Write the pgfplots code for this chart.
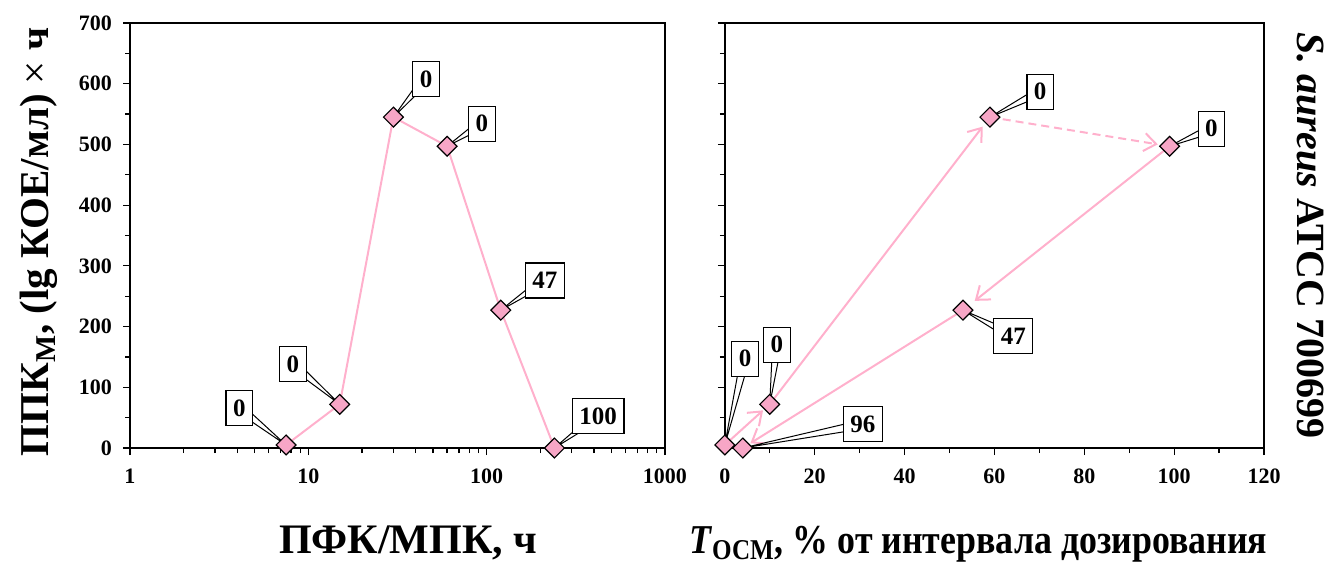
\documentclass[border=0pt]{standalone}
\usepackage{fontspec}
\setmainfont{Liberation Serif}
\usepackage{pgfplots}
\pgfplotsset{compat=1.18}
\usetikzlibrary{arrows.meta,calc}
\definecolor{pline}{RGB}{255,176,204}
\definecolor{pfill}{RGB}{247,166,198}

\tikzset{cbox/.style={draw=black, fill=white, line width=0.6pt, font=\fontsize{12.5}{14}\selectfont\bfseries, inner xsep=3.5pt, inner ysep=0pt, minimum height=17.5pt},
  pink arrow/.style={pline, line width=1pt, -{Straight Barb[length=6pt,width=9pt,line width=1pt]}}}

\newcommand{\callout}[3]{%
  \draw[black, line width=0.5pt, fill=white] (#1) -- ($(#2)!2.2pt!90:(#1)$) -- ($(#2)!2.2pt!-90:(#1)$) -- cycle;
  \node[cbox] at (#2) {#3};
}

\pgfplotsset{mystyle/.style={
  scale only axis, width=267.5pt, height=212.5pt, anchor=south west,
  clip=false, ymin=0, ymax=700,
  axis line style={line width=0.75pt}, tick style={black, line width=0.6pt},
  major tick length=3.5pt, minor tick length=2.5pt, tick align=outside, tick pos=left,
  ticklabel style={font=\fontsize{11}{13}\selectfont\bfseries},
  /pgf/number format/assume math mode=true,
  ytick={0,100,...,700}, minor ytick={50,150,...,650},
  yticklabel style={xshift=-2pt}, xticklabel style={yshift=-3.5pt},
}}

\begin{document}
\begin{tikzpicture}
\useasboundingbox (0pt,0pt) rectangle (665pt,282pt);
% left panel
\begin{axis}[mystyle, at={(65pt,58pt)},
  xmode=log, xmin=1, xmax=1000,
  xtick={1,10,100,1000}, xticklabels={1,10,100,1000},
  minor xtick={2,3,4,5,6,7,8,9,20,30,40,50,60,70,80,90,200,300,400,500,600,700,800,900}]
\addplot[pline, line width=1pt, mark=square*, mark size=3.5pt,
  mark options={rotate=45, fill=pfill, draw=black, line width=0.6pt, solid}]
  coordinates {(7.5,5) (15,72) (30,545) (60,497) (120,227) (240,0)};
\callout{axis cs:7.5,5}{axis cs:4.1,66}{0}
\callout{axis cs:15,72}{axis cs:8.2,138}{0}
\callout{axis cs:30,545}{axis cs:45.7,608}{0}
\callout{axis cs:60,497}{axis cs:94,534}{0}
\callout{axis cs:120,227}{axis cs:212,276}{47}
\callout{axis cs:240,0}{axis cs:422,53}{100}
\node[xshift=-40.5pt, rotate=90, anchor=base, font=\fontsize{20.5}{24}\selectfont\bfseries]
  at (axis description cs:0,0.485) {ППК\textsubscript{М}, (lg КОЕ/мл) \textmd{×} ч};
\node[yshift=-52.5pt, anchor=base, font=\fontsize{21}{24}\selectfont\bfseries]
  at (axis description cs:0.52,0) {ПФК/МПК, ч};
\end{axis}
% right panel
\begin{axis}[mystyle, at={(362.4pt,58pt)}, width=269.6pt,
  xmin=0, xmax=120, xtick={0,20,...,120}, minor xtick={10,30,...,110},
  yticklabels={}]
\addplot[pink arrow, shorten >=4.5pt] coordinates {(0,5) (10,72)};
\addplot[pink arrow, shorten >=6pt] coordinates {(10,72) (59,545)};
\addplot[pink arrow, shorten >=6pt, dash pattern=on 4pt off 2.5pt] coordinates {(59,545) (99,497)};
\addplot[pink arrow, shorten >=7.5pt] coordinates {(99,497) (53,227)};
\addplot[pink arrow, shorten >=4.5pt] coordinates {(53,227) (4,0)};
\addplot[only marks, mark=square*, mark size=3.5pt,
  mark options={rotate=45, fill=pfill, draw=black, line width=0.6pt}]
  coordinates {(0,5) (10,72) (59,545) (99,497) (53,227) (4,0)};
\callout{axis cs:0,5}{axis cs:4.5,147}{0}
\callout{axis cs:10,72}{axis cs:11.6,170}{0}
\callout{axis cs:59,545}{axis cs:70.2,587}{0}
\callout{axis cs:99,497}{axis cs:108.3,526}{0}
\callout{axis cs:53,227}{axis cs:64.2,184}{47}
\callout{axis cs:4,0}{axis cs:30.7,39}{96}
\node[yshift=-52.5pt, anchor=base, font=\fontsize{20.5}{24}\selectfont\bfseries]
  at (axis description cs:0.47,0) {\scalebox{0.875}[1]{\textit{T}\textsubscript{ОСМ}, \% от интервала дозирования}};
\node[xshift=16.5pt, rotate=-90, anchor=base, font=\fontsize{20}{24}\selectfont\bfseries]
  at (axis description cs:1,0.5) {\textit{S. aureus} ATCC 700699};
\end{axis}
\end{tikzpicture}
\end{document}
